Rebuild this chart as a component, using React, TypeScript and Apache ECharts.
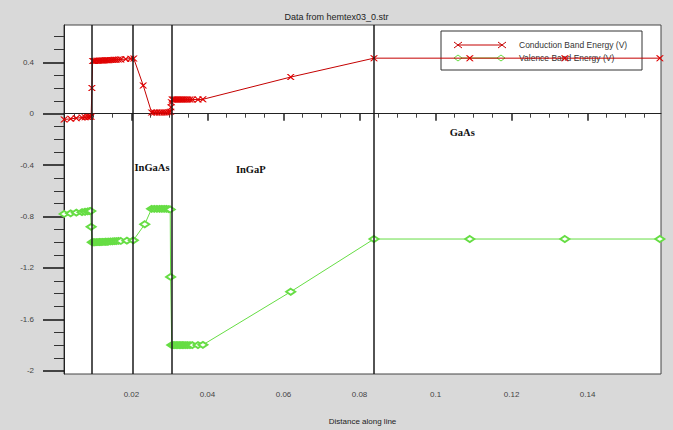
import React, { useEffect, useRef } from "react";
import * as echarts from "echarts";

// Conduction band energy (V) vs distance along line
const conductionPoints: [number, number][] = [
  [0.0023, -0.045], [0.004, -0.04], [0.0055, -0.035], [0.007, -0.03], [0.0078, -0.028],
  [0.0085, -0.026], [0.009, -0.025], [0.0094, -0.024],
  [0.0096, 0.2], [0.0098, 0.41],
  [0.0101, 0.41], [0.0104, 0.41], [0.0108, 0.412], [0.0112, 0.412], [0.0116, 0.413],
  [0.012, 0.413], [0.0124, 0.414], [0.0128, 0.414], [0.0132, 0.415], [0.0136, 0.415],
  [0.014, 0.416], [0.0145, 0.417], [0.015, 0.418], [0.0155, 0.419], [0.016, 0.42],
  [0.0166, 0.421], [0.0172, 0.422], [0.0185, 0.425], [0.0198, 0.428], [0.0206, 0.43],
  [0.0231, 0.22], [0.0253, 0.01],
  [0.026, 0.01], [0.0267, 0.01], [0.0274, 0.01], [0.028, 0.01], [0.0286, 0.01],
  [0.0292, 0.01], [0.0298, 0.012], [0.0303, 0.015],
  [0.0304, 0.05], [0.0305, 0.09], [0.0307, 0.11],
  [0.031, 0.11], [0.0314, 0.11], [0.0318, 0.11], [0.0322, 0.11], [0.0326, 0.11],
  [0.033, 0.11], [0.0334, 0.11], [0.0338, 0.11], [0.0343, 0.11], [0.0348, 0.11],
  [0.0354, 0.11], [0.036, 0.11], [0.0375, 0.11], [0.0388, 0.112],
  [0.0619, 0.285], [0.0838, 0.432], [0.109, 0.432], [0.134, 0.432], [0.159, 0.432],
];

// Valence band energy (V) vs distance along line
const valencePoints: [number, number][] = [
  [0.0023, -0.78], [0.004, -0.775], [0.0055, -0.77], [0.007, -0.766], [0.0078, -0.763],
  [0.0085, -0.76], [0.009, -0.758], [0.0093, -0.757],
  [0.0094, -0.88], [0.0097, -1.0],
  [0.0101, -1.0], [0.0104, -1.0], [0.0108, -0.999], [0.0112, -0.999], [0.0116, -0.998],
  [0.012, -0.998], [0.0124, -0.997], [0.0128, -0.997], [0.0132, -0.996], [0.0136, -0.996],
  [0.014, -0.995], [0.0145, -0.994], [0.015, -0.993], [0.0155, -0.992], [0.016, -0.991],
  [0.0166, -0.99], [0.0172, -0.99], [0.0188, -0.988], [0.0205, -0.985],
  [0.0235, -0.86], [0.0253, -0.74],
  [0.026, -0.74], [0.0267, -0.74], [0.0274, -0.74], [0.028, -0.74], [0.0286, -0.74],
  [0.0292, -0.74], [0.0298, -0.742], [0.0302, -0.745],
  [0.0303, -1.27], [0.0306, -1.8],
  [0.031, -1.8], [0.0314, -1.8], [0.0318, -1.8], [0.0322, -1.8], [0.0326, -1.8],
  [0.033, -1.8], [0.0334, -1.8], [0.0338, -1.8], [0.0343, -1.8], [0.0348, -1.8],
  [0.0354, -1.8], [0.036, -1.8], [0.0375, -1.8], [0.0388, -1.798],
  [0.0619, -1.385], [0.0838, -0.975], [0.109, -0.975], [0.134, -0.975], [0.159, -0.975],
];

// Layer interfaces (vertical lines)
const interfaceX = [0.0096, 0.0204, 0.0307, 0.0838];

// Region labels
const regionNames = ["InGaAs", "InGaP", "GaAs"];
const regionX = [0.0254, 0.0514, 0.107];
const regionY = [-0.42, -0.435, -0.15];

// Axis ticks
const yTickLabels = [0.4, 0, -0.4, -0.8, -1.2, -1.6, -2];
const yMinorTicks = [0.6, 0.5, 0.3, 0.2, 0.1, -0.1, -0.2, -0.3, -0.5, -0.6, -0.7, -0.9, -1.0, -1.1, -1.3, -1.4, -1.5, -1.7, -1.8, -1.9];
const xTickLabels = [0.02, 0.04, 0.06, 0.08, 0.1, 0.12, 0.14];
const xMinorTicks = [0.005, 0.01, 0.015, 0.025, 0.03, 0.035, 0.045, 0.05, 0.055, 0.065, 0.07, 0.075, 0.085, 0.09, 0.095, 0.105, 0.11, 0.115, 0.125, 0.13, 0.135, 0.145, 0.15, 0.155];

const seriesNames = ["Conduction Band Energy (V)", "Valence Band Energy (V)"];

const RED = "#c40000";
const GREEN = "#66dd44";
const X_MARK = "path://M0,0L2,0L5,3.6L8,0L10,0L6,5L10,10L8,10L5,6.4L2,10L0,10L4,5Z";
const FONT = "Liberation Sans, Arial, sans-serif";

function crossMark(cx: number, cy: number) {
  return [
    { type: "line", shape: { x1: cx - 4, y1: cy - 3, x2: cx + 4, y2: cy + 3 }, style: { stroke: RED, lineWidth: 1 } },
    { type: "line", shape: { x1: cx - 4, y1: cy + 3, x2: cx + 4, y2: cy - 3 }, style: { stroke: RED, lineWidth: 1 } },
  ];
}
function diamondMark(cx: number, cy: number) {
  return {
    type: "polygon",
    shape: { points: [[cx - 4, cy], [cx, cy - 3], [cx + 4, cy], [cx, cy + 3]] },
    style: { stroke: GREEN, fill: "#fff", lineWidth: 1 },
  };
}

export default function App() {
  const ref = useRef<HTMLDivElement>(null);
  useEffect(() => {
    if (!ref.current) return;
    const chart = echarts.init(ref.current, undefined, { renderer: "svg" });
    const xMin = 0.00226;
    const xMax = 0.1593;
    const yMin = -2.025;
    const yMax = 0.69;
    chart.setOption({
      animation: false,
      backgroundColor: "#d9d9d9",
      title: {
        text: "Data from hemtex03_0.str",
        left: "center",
        top: 7,
        textStyle: { fontSize: 9, fontWeight: "normal", color: "#222", fontFamily: FONT },
      },
      grid: {
        left: 64, right: 12, top: 25, bottom: 49,
        show: true, backgroundColor: "#ffffff", borderColor: "#444", borderWidth: 1,
      },
      xAxis: [
        {
          type: "value", min: xMin, max: xMax, position: "bottom",
          name: "Distance along line", nameLocation: "middle", nameGap: 43,
          nameTextStyle: { fontSize: 8, color: "#222", fontFamily: FONT },
          axisLine: { show: true, lineStyle: { color: "#222", width: 1 } },
          axisTick: { show: true, customValues: xTickLabels, length: 7, lineStyle: { color: "#222", width: 1.5 } },
          axisLabel: { customValues: xTickLabels, margin: 16, fontSize: 8, color: "#444", fontFamily: FONT },
          splitLine: { show: false },
        },
        {
          type: "value", min: xMin, max: xMax, position: "bottom",
          axisLine: { show: false },
          axisTick: { show: true, customValues: xMinorTicks, length: 4, lineStyle: { color: "#444", width: 1 } },
          axisLabel: { show: false },
          splitLine: { show: false },
        },
      ],
      yAxis: [
        {
          type: "value", min: yMin, max: yMax, position: "left",
          axisLine: { show: true, lineStyle: { color: "#222", width: 1 } },
          axisTick: { show: true, customValues: yTickLabels, length: 21, lineStyle: { color: "#111", width: 1.5 } },
          axisLabel: { customValues: yTickLabels, margin: 30, fontSize: 8, color: "#444", fontFamily: FONT },
          splitLine: { show: false },
        },
        {
          type: "value", min: yMin, max: yMax, position: "left",
          axisLine: { show: false },
          axisTick: { show: true, customValues: yMinorTicks, length: 10, lineStyle: { color: "#333", width: 1 } },
          axisLabel: { show: false },
          splitLine: { show: false },
        },
      ],
      series: [
        {
          name: seriesNames[0],
          type: "line",
          xAxisIndex: 0, yAxisIndex: 0,
          data: conductionPoints,
          symbol: X_MARK,
          symbolSize: [8, 6],
          showAllSymbol: true,
          lineStyle: { color: RED, width: 1 },
          itemStyle: { color: "#e00000" },
          z: 3,
          markLine: {
            silent: true,
            symbol: ["none", "none"],
            label: { show: false },
            precision: 6,
            lineStyle: { color: "#1a1a1a", width: 1.5, type: "solid" },
            data: interfaceX.map((x) => [{ coord: [x, yMin] }, { coord: [x, yMax] }]),
          },
          markPoint: {
            silent: true,
            symbol: "circle",
            symbolSize: 0,
            label: {
              show: true, position: "inside", formatter: "{b}",
              fontFamily: "Liberation Serif, Times New Roman, serif",
              fontWeight: "bold", fontSize: 10.5, color: "#111",
            },
            data: regionNames.map((n, i) => ({ name: n, coord: [regionX[i], regionY[i]] })),
          },
        },
        {
          name: seriesNames[1],
          type: "line",
          xAxisIndex: 0, yAxisIndex: 0,
          data: valencePoints,
          symbol: "emptyDiamond",
          symbolSize: [9, 6],
          showAllSymbol: true,
          lineStyle: { color: GREEN, width: 1 },
          itemStyle: { color: GREEN, borderWidth: 1 },
          z: 3,
        },
      ],
      graphic: [
        {
          type: "group",
          z: 100,
          children: [
            { type: "rect", shape: { x: 441, y: 31, width: 201, height: 39 }, style: { fill: "none", stroke: "#333", lineWidth: 1 } },
            { type: "line", shape: { x1: 458, y1: 45, x2: 502, y2: 45 }, style: { stroke: RED, lineWidth: 1 } },
            ...crossMark(458, 45),
            ...crossMark(502, 45),
            { type: "line", shape: { x1: 458, y1: 58, x2: 501, y2: 58 }, style: { stroke: GREEN, lineWidth: 1 } },
            diamondMark(458, 58),
            diamondMark(501, 58),
            { type: "text", x: 519, y: 45, style: { text: seriesNames[0], fontSize: 8.5, fill: "#333", fontFamily: FONT, verticalAlign: "middle" } },
            { type: "text", x: 519, y: 58, style: { text: seriesNames[1], fontSize: 8.5, fill: "#333", fontFamily: FONT, verticalAlign: "middle" } },
          ],
        },
      ],
    });
    return () => chart.dispose();
  }, []);
  return <div ref={ref} style={{ position: "fixed", left: 0, top: 0, width: 673, height: 430 }} />;
}
